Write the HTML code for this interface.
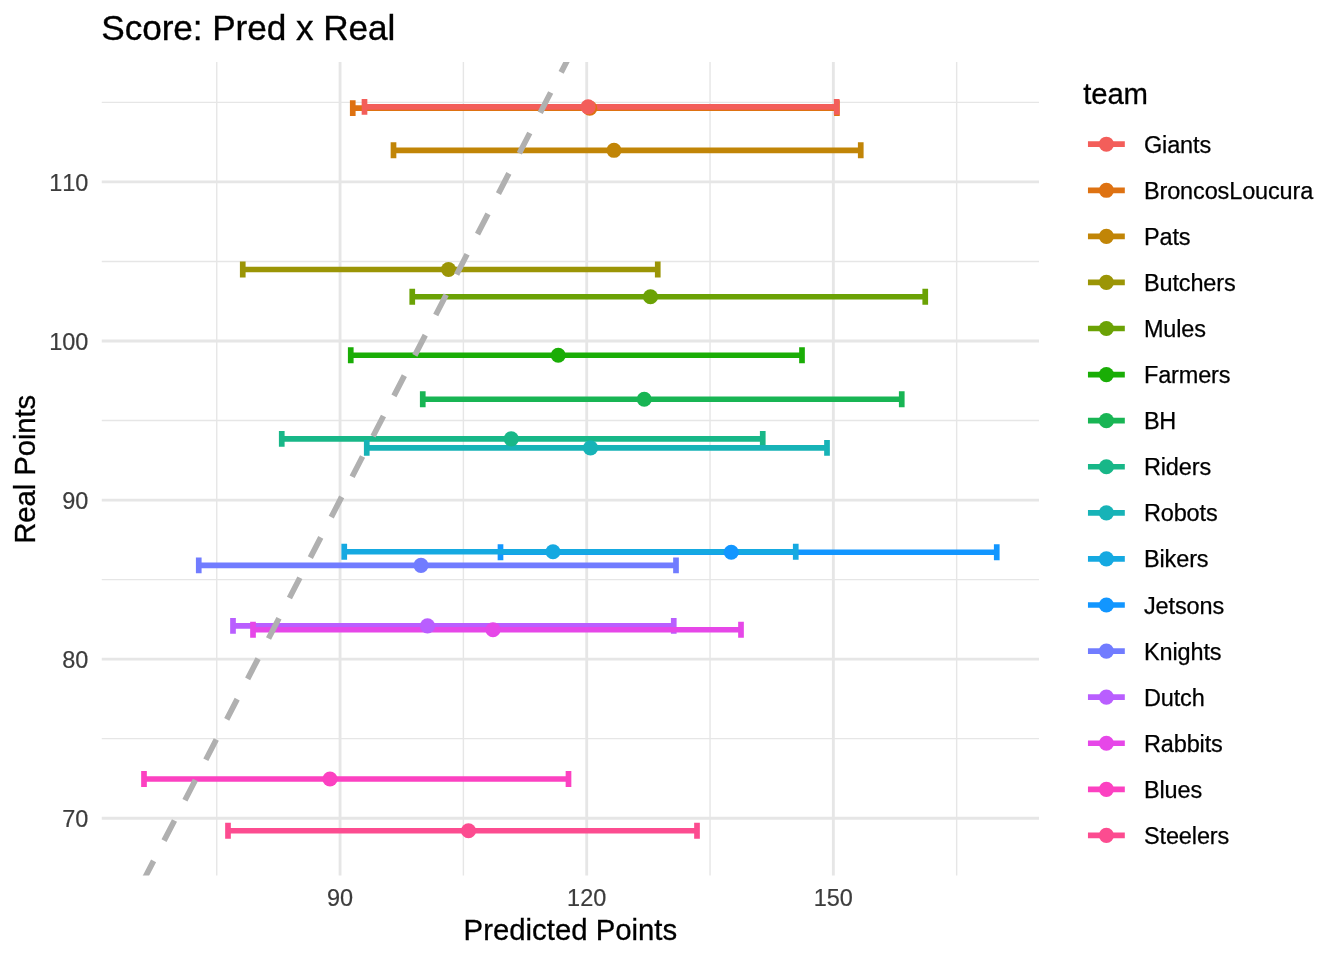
<!DOCTYPE html>
<html lang="en">
<head>
<meta charset="utf-8">
<title>Score: Pred x Real</title>
<style>
html,body{margin:0;padding:0;background:#fff;}
body{width:1344px;height:960px;overflow:hidden;}
svg{display:block;}
text{font-family:"Liberation Sans", Arial, Helvetica, sans-serif;font-kerning:none;}
</style>
</head>
<body>
<svg width="1344" height="960" viewBox="0 0 1344 960">
<rect x="0" y="0" width="1344" height="960" fill="#ffffff"/>
<defs><clipPath id="panel"><rect x="101.75" y="62.00" width="937.25" height="813.50"/></clipPath></defs>
<g stroke="#E6E6E6" fill="none" shape-rendering="auto">
<line x1="101.75" x2="1039.00" y1="102.36" y2="102.36" stroke-width="1.42"/>
<line x1="101.75" x2="1039.00" y1="261.44" y2="261.44" stroke-width="1.42"/>
<line x1="101.75" x2="1039.00" y1="420.51" y2="420.51" stroke-width="1.42"/>
<line x1="101.75" x2="1039.00" y1="579.59" y2="579.59" stroke-width="1.42"/>
<line x1="101.75" x2="1039.00" y1="738.66" y2="738.66" stroke-width="1.42"/>
<line x1="216.75" x2="216.75" y1="62.00" y2="875.50" stroke-width="1.42"/>
<line x1="463.39" x2="463.39" y1="62.00" y2="875.50" stroke-width="1.42"/>
<line x1="710.03" x2="710.03" y1="62.00" y2="875.50" stroke-width="1.42"/>
<line x1="956.67" x2="956.67" y1="62.00" y2="875.50" stroke-width="1.42"/>
<line x1="101.75" x2="1039.00" y1="181.90" y2="181.90" stroke-width="2.85"/>
<line x1="101.75" x2="1039.00" y1="340.98" y2="340.98" stroke-width="2.85"/>
<line x1="101.75" x2="1039.00" y1="500.05" y2="500.05" stroke-width="2.85"/>
<line x1="101.75" x2="1039.00" y1="659.12" y2="659.12" stroke-width="2.85"/>
<line x1="101.75" x2="1039.00" y1="818.20" y2="818.20" stroke-width="2.85"/>
<line x1="340.07" x2="340.07" y1="62.00" y2="875.50" stroke-width="2.85"/>
<line x1="586.71" x2="586.71" y1="62.00" y2="875.50" stroke-width="2.85"/>
<line x1="833.35" x2="833.35" y1="62.00" y2="875.50" stroke-width="2.85"/>
</g>
<g clip-path="url(#panel)">
<g fill="none" stroke-width="5.69" stroke-linecap="butt">
<path stroke="#DE7212" d="M836.90 100.20V116.10M352.75 108.15H836.90M352.75 100.20V116.10"/>
<path stroke="#F35E5A" d="M836.70 98.95V114.85M364.50 106.90H836.70M364.50 98.95V114.85"/>
<path stroke="#C18507" d="M860.75 142.35V158.25M393.50 150.30H860.75M393.50 142.35V158.25"/>
<path stroke="#9B9506" d="M657.75 261.55V277.45M242.75 269.50H657.75M242.75 261.55V277.45"/>
<path stroke="#6BA205" d="M925.25 288.80V304.70M412.25 296.75H925.25M412.25 288.80V304.70"/>
<path stroke="#1AAD06" d="M802.00 347.30V363.20M350.75 355.25H802.00M350.75 347.30V363.20"/>
<path stroke="#18B554" d="M901.75 391.30V407.20M422.75 399.25H901.75M422.75 391.30V407.20"/>
<path stroke="#18B788" d="M762.75 430.90V446.80M281.75 438.85H762.75M281.75 430.90V446.80"/>
<path stroke="#17B3B7" d="M827.00 439.95V455.85M366.75 447.90H827.00M366.75 439.95V455.85"/>
<path stroke="#1296FF" d="M996.75 544.30V560.20M500.50 552.25H996.75M500.50 544.30V560.20"/>
<path stroke="#15A9E1" d="M795.75 543.80V559.70M344.25 551.75H795.75M344.25 543.80V559.70"/>
<path stroke="#717CFF" d="M676.00 557.45V573.35M198.75 565.40H676.00M198.75 557.45V573.35"/>
<path stroke="#B95EFF" d="M673.75 617.95V633.85M233.00 625.90H673.75M233.00 617.95V633.85"/>
<path stroke="#E647E8" d="M741.00 621.80V637.70M253.00 629.75H741.00M253.00 621.80V637.70"/>
<path stroke="#FC41C1" d="M568.50 771.05V786.95M144.00 779.00H568.50M144.00 771.05V786.95"/>
<path stroke="#FC4C90" d="M697.00 822.80V838.70M228.00 830.75H697.00M228.00 822.80V838.70"/>
</g>
<g stroke="none">
<circle cx="589.75" cy="108.15" r="7.57" fill="#DE7212"/>
<circle cx="588.10" cy="106.90" r="7.57" fill="#F35E5A"/>
<circle cx="614.00" cy="150.30" r="7.57" fill="#C18507"/>
<circle cx="448.50" cy="269.50" r="7.57" fill="#9B9506"/>
<circle cx="650.50" cy="296.75" r="7.57" fill="#6BA205"/>
<circle cx="558.25" cy="355.25" r="7.57" fill="#1AAD06"/>
<circle cx="644.25" cy="399.25" r="7.57" fill="#18B554"/>
<circle cx="511.25" cy="438.85" r="7.57" fill="#18B788"/>
<circle cx="590.50" cy="447.90" r="7.57" fill="#17B3B7"/>
<circle cx="731.25" cy="552.25" r="7.57" fill="#1296FF"/>
<circle cx="553.00" cy="551.75" r="7.57" fill="#15A9E1"/>
<circle cx="421.00" cy="565.40" r="7.57" fill="#717CFF"/>
<circle cx="427.50" cy="625.90" r="7.57" fill="#B95EFF"/>
<circle cx="493.00" cy="629.75" r="7.57" fill="#E647E8"/>
<circle cx="330.00" cy="779.00" r="7.57" fill="#FC41C1"/>
<circle cx="468.50" cy="830.75" r="7.57" fill="#FC4C90"/>
</g>
<line x1="101.75" y1="961.17" x2="1039.00" y2="-852.30" stroke="#B0B0B0" stroke-width="5.69" stroke-dasharray="22.76 22.76" stroke-dashoffset="0.9" fill="none"/>
</g>
<g font-size="23.47" fill="#3C3C3C" stroke="#3C3C3C" stroke-width="0.2">
<text x="88.3" y="190.80" text-anchor="end">110</text>
<text x="88.3" y="349.88" text-anchor="end">100</text>
<text x="88.3" y="508.95" text-anchor="end">90</text>
<text x="88.3" y="668.02" text-anchor="end">80</text>
<text x="88.3" y="827.10" text-anchor="end">70</text>
<text x="340.07" y="906.2" text-anchor="middle">90</text>
<text x="586.71" y="906.2" text-anchor="middle">120</text>
<text x="833.35" y="906.2" text-anchor="middle">150</text>
</g>
<g font-size="29.33" fill="#000000" stroke="#000000" stroke-width="0.3">
<text x="570.4" y="940" text-anchor="middle">Predicted Points</text>
<text transform="translate(35.2 469.25) rotate(-90)" text-anchor="middle" textLength="149.0">Real Points</text>
<text x="1083.35" y="103.75" textLength="64.6">team</text>
</g>
<text x="101.25" y="39.6" font-size="35.2" fill="#000000" stroke="#000000" stroke-width="0.35" textLength="294.06">Score: Pred x Real</text>
<g>
<line x1="1087.96" x2="1124.82" y1="144.20" y2="144.20" stroke="#F35E5A" stroke-width="5.69"/><circle cx="1106.39" cy="144.20" r="7.57" fill="#F35E5A"/><text x="1143.95" y="152.70" font-size="23.47" fill="#000000" stroke="#000000" stroke-width="0.25" textLength="67.22">Giants</text>
<line x1="1087.96" x2="1124.82" y1="190.28" y2="190.28" stroke="#DE7212" stroke-width="5.69"/><circle cx="1106.39" cy="190.28" r="7.57" fill="#DE7212"/><text x="1143.95" y="198.78" font-size="23.47" fill="#000000" stroke="#000000" stroke-width="0.25" textLength="169.37">BroncosLoucura</text>
<line x1="1087.96" x2="1124.82" y1="236.36" y2="236.36" stroke="#C18507" stroke-width="5.69"/><circle cx="1106.39" cy="236.36" r="7.57" fill="#C18507"/><text x="1143.95" y="244.86" font-size="23.47" fill="#000000" stroke="#000000" stroke-width="0.25" textLength="46.55">Pats</text>
<line x1="1087.96" x2="1124.82" y1="282.44" y2="282.44" stroke="#9B9506" stroke-width="5.69"/><circle cx="1106.39" cy="282.44" r="7.57" fill="#9B9506"/><text x="1143.95" y="290.94" font-size="23.47" fill="#000000" stroke="#000000" stroke-width="0.25" textLength="91.79">Butchers</text>
<line x1="1087.96" x2="1124.82" y1="328.52" y2="328.52" stroke="#6BA205" stroke-width="5.69"/><circle cx="1106.39" cy="328.52" r="7.57" fill="#6BA205"/><text x="1143.95" y="337.02" font-size="23.47" fill="#000000" stroke="#000000" stroke-width="0.25" textLength="62.05">Mules</text>
<line x1="1087.96" x2="1124.82" y1="374.60" y2="374.60" stroke="#1AAD06" stroke-width="5.69"/><circle cx="1106.39" cy="374.60" r="7.57" fill="#1AAD06"/><text x="1143.95" y="383.10" font-size="23.47" fill="#000000" stroke="#000000" stroke-width="0.25" textLength="86.57">Farmers</text>
<line x1="1087.96" x2="1124.82" y1="420.68" y2="420.68" stroke="#18B554" stroke-width="5.69"/><circle cx="1106.39" cy="420.68" r="7.57" fill="#18B554"/><text x="1143.95" y="429.18" font-size="23.47" fill="#000000" stroke="#000000" stroke-width="0.25" textLength="32.32">BH</text>
<line x1="1087.96" x2="1124.82" y1="466.76" y2="466.76" stroke="#18B788" stroke-width="5.69"/><circle cx="1106.39" cy="466.76" r="7.57" fill="#18B788"/><text x="1143.95" y="475.26" font-size="23.47" fill="#000000" stroke="#000000" stroke-width="0.25" textLength="67.22">Riders</text>
<line x1="1087.96" x2="1124.82" y1="512.84" y2="512.84" stroke="#17B3B7" stroke-width="5.69"/><circle cx="1106.39" cy="512.84" r="7.57" fill="#17B3B7"/><text x="1143.95" y="521.34" font-size="23.47" fill="#000000" stroke="#000000" stroke-width="0.25" textLength="73.71">Robots</text>
<line x1="1087.96" x2="1124.82" y1="558.92" y2="558.92" stroke="#15A9E1" stroke-width="5.69"/><circle cx="1106.39" cy="558.92" r="7.57" fill="#15A9E1"/><text x="1143.95" y="567.42" font-size="23.47" fill="#000000" stroke="#000000" stroke-width="0.25" textLength="64.63">Bikers</text>
<line x1="1087.96" x2="1124.82" y1="605.00" y2="605.00" stroke="#1296FF" stroke-width="5.69"/><circle cx="1106.39" cy="605.00" r="7.57" fill="#1296FF"/><text x="1143.95" y="613.50" font-size="23.47" fill="#000000" stroke="#000000" stroke-width="0.25" textLength="80.16">Jetsons</text>
<line x1="1087.96" x2="1124.82" y1="651.08" y2="651.08" stroke="#717CFF" stroke-width="5.69"/><circle cx="1106.39" cy="651.08" r="7.57" fill="#717CFF"/><text x="1143.95" y="659.58" font-size="23.47" fill="#000000" stroke="#000000" stroke-width="0.25" textLength="77.58">Knights</text>
<line x1="1087.96" x2="1124.82" y1="697.16" y2="697.16" stroke="#B95EFF" stroke-width="5.69"/><circle cx="1106.39" cy="697.16" r="7.57" fill="#B95EFF"/><text x="1143.95" y="705.66" font-size="23.47" fill="#000000" stroke="#000000" stroke-width="0.25" textLength="60.76">Dutch</text>
<line x1="1087.96" x2="1124.82" y1="743.24" y2="743.24" stroke="#E647E8" stroke-width="5.69"/><circle cx="1106.39" cy="743.24" r="7.57" fill="#E647E8"/><text x="1143.95" y="751.74" font-size="23.47" fill="#000000" stroke="#000000" stroke-width="0.25" textLength="78.86">Rabbits</text>
<line x1="1087.96" x2="1124.82" y1="789.32" y2="789.32" stroke="#FC41C1" stroke-width="5.69"/><circle cx="1106.39" cy="789.32" r="7.57" fill="#FC41C1"/><text x="1143.95" y="797.82" font-size="23.47" fill="#000000" stroke="#000000" stroke-width="0.25" textLength="58.19">Blues</text>
<line x1="1087.96" x2="1124.82" y1="835.40" y2="835.40" stroke="#FC4C90" stroke-width="5.69"/><circle cx="1106.39" cy="835.40" r="7.57" fill="#FC4C90"/><text x="1143.95" y="843.90" font-size="23.47" fill="#000000" stroke="#000000" stroke-width="0.25" textLength="85.33">Steelers</text>
</g>
</svg>
</body>
</html>
